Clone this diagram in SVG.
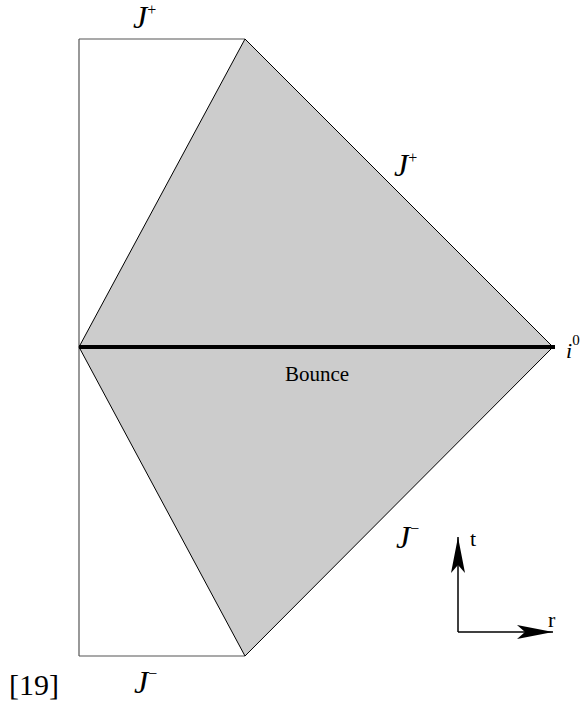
<svg xmlns="http://www.w3.org/2000/svg" width="584" height="705" viewBox="0 0 584 705">
<defs>
<marker id="ah2" markerWidth="36" markerHeight="14" refX="36" refY="7" orient="auto" markerUnits="userSpaceOnUse" viewBox="0 0 36 14">
<path d="M0,0 L36,7 L0,14 L8,7 Z" fill="#000"/>
</marker>
</defs>
<g id="region">
<path d="M79,39 H245 M79,656 H245 M79,39 V656" fill="none" stroke="#555" stroke-width="1.2"/>
<polygon points="79,347 245,39 553,347 245,656" fill="#cccccc" stroke="#000" stroke-width="1"/>
</g>
<g id="connectors">
<line x1="79" y1="347" x2="555" y2="347" stroke="#000" stroke-width="4"/>
<line x1="458" y1="632" x2="458" y2="537" stroke="#000" stroke-width="1.5" marker-end="url(#ah2)"/>
<line x1="458" y1="632" x2="553" y2="632" stroke="#000" stroke-width="1.5" marker-end="url(#ah2)"/>
</g>
<g id="labels" font-family="'Liberation Serif', 'DejaVu Serif', serif" fill="#000">
<text x="133" y="28"><tspan font-style="italic" font-size="32">J</tspan><tspan font-size="16" dy="-13">+</tspan></text>
<text x="394" y="176"><tspan font-style="italic" font-size="32">J</tspan><tspan font-size="16" dy="-13">+</tspan></text>
<text x="566" y="358"><tspan font-style="italic" font-size="22">i</tspan><tspan font-size="15" dy="-13">0</tspan></text>
<text x="317" y="381" text-anchor="middle" font-size="21">Bounce</text>
<text x="396" y="548"><tspan font-style="italic" font-size="32">J</tspan><tspan font-size="16" dy="-14">−</tspan></text>
<text x="470" y="546" font-size="22">t</text>
<text x="548" y="627" font-size="22">r</text>
<text x="134" y="693"><tspan font-style="italic" font-size="32">J</tspan><tspan font-size="16" dy="-14">−</tspan></text>
<text x="9" y="695" font-size="30">[19]</text>
</g>
</svg>
